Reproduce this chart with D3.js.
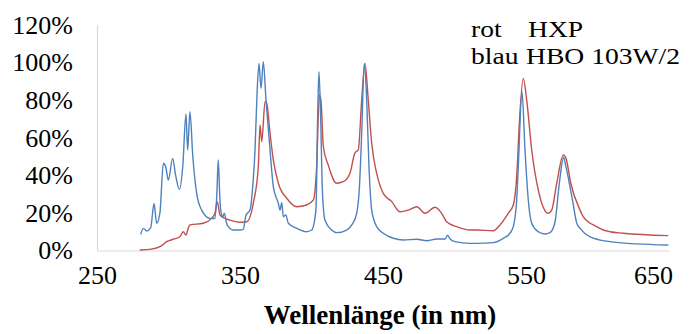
<!DOCTYPE html>
<html><head><meta charset="utf-8">
<script src="https://cdn.jsdelivr.net/npm/d3@7"></script>
<style>
html,body{margin:0;padding:0;background:#fff;}
text{font-family:"Liberation Serif","Times New Roman",serif;fill:#000;}
</style></head>
<body><svg id="c" width="696" height="334"></svg>
<script>
const xTicks = [250, 350, 450, 550, 650];
const yTicks = [0, 20, 40, 60, 80, 100, 120];
const xTitle = "Wellenlänge (in nm)";
const legendLines = [["rot", "HXP"], ["blau", "HBO 103W/2"]];

// HBO 103W/2 (blau): wavelength nm, relative intensity %
const blueNm = [280.5,282.4,284.7,287.5,289.9,291.7,294,296.4,298.2,299.9,302.9,305,307.6,310,312.2,313.4,315,317,319.7,323.2,329,332.5,333.8,334.8,335.8,336.5,338,339,341,345.3,350,352.3,354.2,357,359,360.5,362,363.3,364.7,366.3,368.2,371,373.3,376.8,378,379.2,380.3,382,383.8,389.7,396.6,400.1,403.1,404.3,405.2,406.4,407.6,409.4,414.1,417.6,424.6,428.5,431.6,433.4,435.1,436.9,438.6,440.2,442.1,445.6,450.2,457.2,464.2,473.6,480.6,487.6,493.4,495.2,496.9,500.3,510.8,515.5,527.1,534.1,538.8,541.1,543.5,544.6,547.2,549.3,551.6,554,558.6,563.3,566.8,570.3,573.3,576.3,577.8,582.5,585.5,587.8,594.8,608.7,627.4,649.5];
const blueVal = [8.6,11.8,10.4,12,25,14.5,20,46.4,44,37.5,49,40,32.6,45,72.6,53.5,73.9,50,30.4,21.5,17.1,17,30,48.2,30,21.5,18,19.8,13.6,10.9,10.9,11.3,18.9,21.5,35,53.5,85,99.6,86.3,100.5,80,53.5,34,25.1,21.5,25.4,18,18.9,14.5,11.8,10,10.9,21.5,71.2,95.2,71.2,32.2,16.2,10.9,9.5,10.9,14,19.8,32.2,62.4,99.6,80,44.6,21.5,12.7,9.2,6.5,5.6,6,5.2,6.1,6.1,8.2,6.1,4.7,3.8,3.8,4.2,6.5,9.2,12.7,26.9,44.6,84.5,53.5,26.9,14.5,10,8.8,9.5,15.3,35.8,49.5,45,26.9,14.5,11.8,7.3,4.7,3.5,2.9];

// HXP (rot)
const redNm = [279.9,287,294,298.7,303.4,308,310.3,312.2,313.8,315,324.3,330.1,332.5,334.1,336,339.5,343,350,354.7,359.3,362.8,364,365.2,367.5,368.7,371,373.3,376.8,382.7,389.7,396.6,401.3,403.6,405.5,406.6,408.3,411.7,417.6,422.2,426.9,430.4,432.7,435.1,437.4,439.7,442.1,445.6,450.2,456.1,461.9,467.7,473.6,479.4,486.4,491,494.5,501.5,510.8,515.5,527.1,531.8,537.6,541.1,543.5,545.5,548.1,550.5,554,558.6,565.6,568,571.5,576.1,578,581.3,587.8,590,594.8,597.1,604.1,608.7,618,649.5];
const redVal = [0.3,0.6,2,4.7,6,7.3,10,8.2,11.8,13.6,14.5,17.1,19.8,26,18.9,17.1,16.2,15,15.3,25.1,44.6,66.8,57.9,79.2,78.3,62.4,48.2,35.8,27.8,23.3,24.2,26.9,44.6,82.8,80.1,55.2,45.5,35.8,36.6,41.1,52,53.5,80,99.6,80,57,41,30.4,26,20.6,21.5,23.3,19.8,23,19.8,15.3,12.7,10.9,10.9,10.5,13.6,19.8,24.2,39.3,70,91.6,80,53.5,32.2,19.8,21.5,35.8,50.8,49,35.8,21.5,18,14.5,13.6,10.9,10,9.2,7.9];

const svg = d3.select("#c");
const x = d3.scaleLinear().domain([250, 650]).range([97, 669]);
const y = d3.scaleLinear().domain([0, 120]).range([250.5, 25]);

// axes
const gx = svg.append("g").attr("transform", "translate(0,250.5)")
  .call(d3.axisBottom(x).tickValues(xTicks).tickSize(0).tickPadding(15).tickFormat(d3.format("d")));
const gy = svg.append("g").attr("transform", "translate(97,0)")
  .call(d3.axisLeft(y).tickValues(yTicks).tickSize(0).tickPadding(24).tickFormat(d => d + "%"));
[gx, gy].forEach(g => {
  g.select(".domain").attr("stroke", "#d9d9d9").attr("stroke-width", 1.2);
  g.selectAll("text").style("font-family", '"Liberation Serif",serif').attr("fill", "#000");
});
gy.selectAll("text").style("font-size", "26px");
gx.selectAll("text").style("font-size", "26px");
gx.selectAll(".tick").filter(d => d === 650).select("text").attr("dx", -16);

// lines
const line = d3.line().x(d => x(d[0])).y(d => y(d[1])).curve(d3.curveMonotoneX);
const redData = redNm.map((v, i) => [v, redVal[i]]);
const blueData = blueNm.map((v, i) => [v, blueVal[i]]);
svg.append("path").datum(redData).attr("d", line).attr("fill", "none")
  .attr("stroke", "#c0504d").attr("stroke-width", 1.4);
svg.append("path").datum(blueData).attr("d", line).attr("fill", "none")
  .attr("stroke", "#4f81bd").attr("stroke-width", 1.4);

// legend text (slightly widened like the reference)
const lg = svg.append("g").style("font-size", "24px");
const rows = [37, 64];
legendLines.forEach((r, i) => {
  lg.append("text").attr("transform", `translate(471,${rows[i]}) scale(1.15,1)`).text(r[0]);
  lg.append("text").attr("transform", `translate(${i === 0 ? 528 : 526},${rows[i]}) scale(1.15,1)`).text(r[1]);
});

// x title
svg.append("text").attr("x", 380).attr("y", 324).attr("text-anchor", "middle")
  .style("font-size", "27px").style("font-weight", "bold").text(xTitle);
</script></body></html>
